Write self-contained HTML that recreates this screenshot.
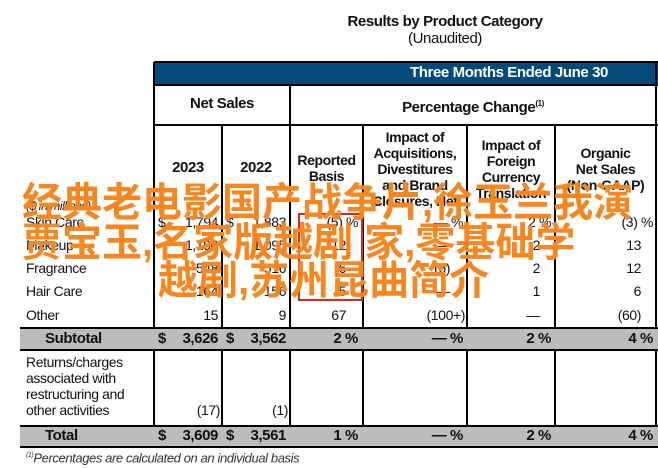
<!DOCTYPE html>
<html><head><meta charset="utf-8"><style>
body{margin:0;background:#fff;}
#c{position:relative;width:658px;height:468px;overflow:hidden;background:#fff;font-family:"Liberation Sans",sans-serif;color:#111;}
#c div{position:absolute;}
.h{background:#000;height:2px;}
.v{background:#000;width:2px;}
.t{font-size:14px;line-height:16px;white-space:nowrap;letter-spacing:-0.4px;}
.b{font-weight:bold;}
.r{text-align:right;}
.ctr{text-align:center;}
.wm{color:#f7861f;font-family:"Liberation Sans","Noto Sans CJK SC",sans-serif;font-size:40px;line-height:40px;font-weight:bold;white-space:nowrap;letter-spacing:0px;}
</style></head><body>
<div id="c">
<div class="t b ctr" style="left:300px;top:14px;width:290px;font-size:15px;">Results by Product Category</div>
<div class="t ctr" style="left:300px;top:31px;width:290px;font-size:15px;">(Unaudited)</div>
<div style="left:154px;top:62px;width:504px;height:23px;background:#044a7b;"></div>
<div style="left:154px;top:61px;width:504px;height:2px;background:#000;"></div>
<div class="t b" style="left:410px;top:65px;color:#fff;font-size:15px;">Three Months Ended June 30</div>
<div class="h" style="left:154px;top:84px;width:504px;"></div>
<div class="h" style="left:154px;top:124px;width:504px;"></div>
<div class="v" style="left:153px;top:62px;height:386px;"></div>
<div class="v" style="left:221px;top:124px;height:324px;"></div>
<div class="v" style="left:289px;top:84px;height:364px;"></div>
<div class="v" style="left:362px;top:124px;height:324px;"></div>
<div class="v" style="left:466px;top:124px;height:324px;"></div>
<div class="v" style="left:554px;top:124px;height:324px;"></div>
<div class="v" style="left:655px;top:62px;height:386px;"></div>
<div class="t b ctr" style="left:154px;top:96px;width:136px;font-size:15px;">Net Sales</div>
<div class="t b ctr" style="left:290px;top:96px;width:366px;font-size:15px;">Percentage Change<sup style="font-size:8px">(1)</sup></div>
<div class="t b ctr" style="left:154px;top:160px;width:68px;font-size:15px;">2023</div>
<div class="t b ctr" style="left:222px;top:160px;width:68px;font-size:15px;">2022</div>
<div class="t b ctr" style="left:290px;top:152px;width:73px;">Reported<br>Basis</div>
<div class="t b ctr" style="left:363px;top:129px;width:104px;">Impact of<br>Acquisitions,<br>Divestitures<br>and Brand<br>Closures, Net</div>
<div class="t b ctr" style="left:467px;top:137px;width:88px;">Impact of<br>Foreign<br>Currency<br>Translation</div>
<div class="t b ctr" style="left:555px;top:145px;width:101px;">Organic<br>Net Sales<br>(Non-GAAP)</div>
<div class="t" style="left:26px;top:198px;font-style:italic;font-size:12px;">($ in millions)</div>
<div class="t" style="left:26px;top:214px;">Skin Care</div>
<div class="t" style="left:26px;top:237px;">Makeup</div>
<div class="t" style="left:26px;top:260px;">Fragrance</div>
<div class="t" style="left:26px;top:283px;">Hair Care</div>
<div class="t" style="left:26px;top:307px;">Other</div>
<div class="t" style="left:158px;top:214px;">$</div><div class="t r" style="left:160px;top:214px;width:58px;">1,794</div>
<div class="t" style="left:226px;top:214px;">$</div><div class="t r" style="left:228px;top:214px;width:58px;">1,883</div>
<div class="t r" style="left:292px;top:214px;width:66px;">(5) %</div>
<div class="t r" style="left:380px;top:214px;width:83px;">— %</div>
<div class="t r" style="left:470px;top:214px;width:81px;">2 %</div>
<div class="t r" style="left:560px;top:214px;width:93px;">(3) %</div>
<div class="t r" style="left:160px;top:237px;width:58px;">1,190</div>
<div class="t r" style="left:228px;top:237px;width:58px;">1,095</div>
<div class="t r" style="left:292px;top:237px;width:54px;">12</div>
<div class="t r" style="left:380px;top:237px;width:70px;">—</div>
<div class="t r" style="left:470px;top:237px;width:70px;">2</div>
<div class="t r" style="left:560px;top:237px;width:81px;">13</div>
<div class="t r" style="left:160px;top:260px;width:58px;">548</div>
<div class="t r" style="left:228px;top:260px;width:58px;">516</div>
<div class="t r" style="left:292px;top:260px;width:54px;">6</div>
<div class="t r" style="left:380px;top:260px;width:70px;">(6)</div>
<div class="t r" style="left:470px;top:260px;width:70px;">2</div>
<div class="t r" style="left:560px;top:260px;width:81px;">12</div>
<div class="t r" style="left:160px;top:283px;width:58px;">164</div>
<div class="t r" style="left:228px;top:283px;width:58px;">156</div>
<div class="t r" style="left:292px;top:283px;width:54px;">5</div>
<div class="t r" style="left:380px;top:283px;width:70px;">—</div>
<div class="t r" style="left:470px;top:283px;width:70px;">1</div>
<div class="t r" style="left:560px;top:283px;width:81px;">6</div>
<div class="t r" style="left:160px;top:307px;width:58px;">15</div>
<div class="t r" style="left:228px;top:307px;width:58px;">9</div>
<div class="t r" style="left:292px;top:307px;width:54px;">67</div>
<div class="t r" style="left:380px;top:307px;width:85px;">(100+)</div>
<div class="t r" style="left:470px;top:307px;width:70px;">—</div>
<div class="t r" style="left:560px;top:307px;width:81px;">(60)</div>
<div style="left:20px;top:328px;width:638px;height:22px;background:#bcbcbc;"></div>
<div class="h" style="left:20px;top:327px;width:638px;"></div>
<div class="h" style="left:20px;top:349px;width:638px;"></div>
<div class="t b" style="left:45px;top:331px;font-size:15px;">Subtotal</div>
<div class="t b" style="left:158px;top:331px;font-size:15px;">$</div><div class="t b r" style="left:160px;top:331px;width:58px;font-size:15px;">3,626</div>
<div class="t b" style="left:226px;top:331px;font-size:15px;">$</div><div class="t b r" style="left:228px;top:331px;width:58px;font-size:15px;">3,562</div>
<div class="t b r" style="left:292px;top:331px;width:66px;font-size:15px;">2 %</div>
<div class="t b r" style="left:380px;top:331px;width:83px;font-size:15px;">— %</div>
<div class="t b r" style="left:470px;top:331px;width:81px;font-size:15px;">2 %</div>
<div class="t b r" style="left:560px;top:331px;width:93px;font-size:15px;">4 %</div>
<div class="t" style="left:26px;top:354px;line-height:16px;">Returns/charges<br>associated with<br>restructuring and<br>other activities</div>
<div class="t r" style="left:160px;top:402px;width:60px;">(17)</div>
<div class="t r" style="left:228px;top:402px;width:60px;">(1)</div>
<div style="left:20px;top:426px;width:638px;height:21px;background:#bcbcbc;"></div>
<div class="h" style="left:20px;top:425px;width:638px;"></div>
<div class="h" style="left:20px;top:446px;width:638px;"></div>
<div class="t b" style="left:45px;top:428px;font-size:15px;">Total</div>
<div class="t b" style="left:158px;top:428px;font-size:15px;">$</div><div class="t b r" style="left:160px;top:428px;width:58px;font-size:15px;">3,609</div>
<div class="t b" style="left:226px;top:428px;font-size:15px;">$</div><div class="t b r" style="left:228px;top:428px;width:58px;font-size:15px;">3,561</div>
<div class="t b r" style="left:292px;top:428px;width:66px;font-size:15px;">1 %</div>
<div class="t b r" style="left:380px;top:428px;width:83px;font-size:15px;">— %</div>
<div class="t b r" style="left:470px;top:428px;width:81px;font-size:15px;">2 %</div>
<div class="t b r" style="left:560px;top:428px;width:93px;font-size:15px;">4 %</div>
<div class="t" style="left:26px;top:448px;font-style:italic;font-size:13px;color:#333;"><sup style="font-size:7px">(1)</sup>Percentages are calculated on an individual basis</div>
<div style="left:298px;top:213px;width:61px;height:84px;border:2px solid #e8231c;"></div>
<div class="wm" style="left:22px;top:183px;">经典老电影国产战争片,徐玉兰我演</div>
<div class="wm" style="left:22px;top:223px;">贾宝玉,名家版越剧 家,零基础学</div>
<div class="wm" style="left:158px;top:261px;">越剧,苏州昆曲简介</div>
</div>
</body></html>
